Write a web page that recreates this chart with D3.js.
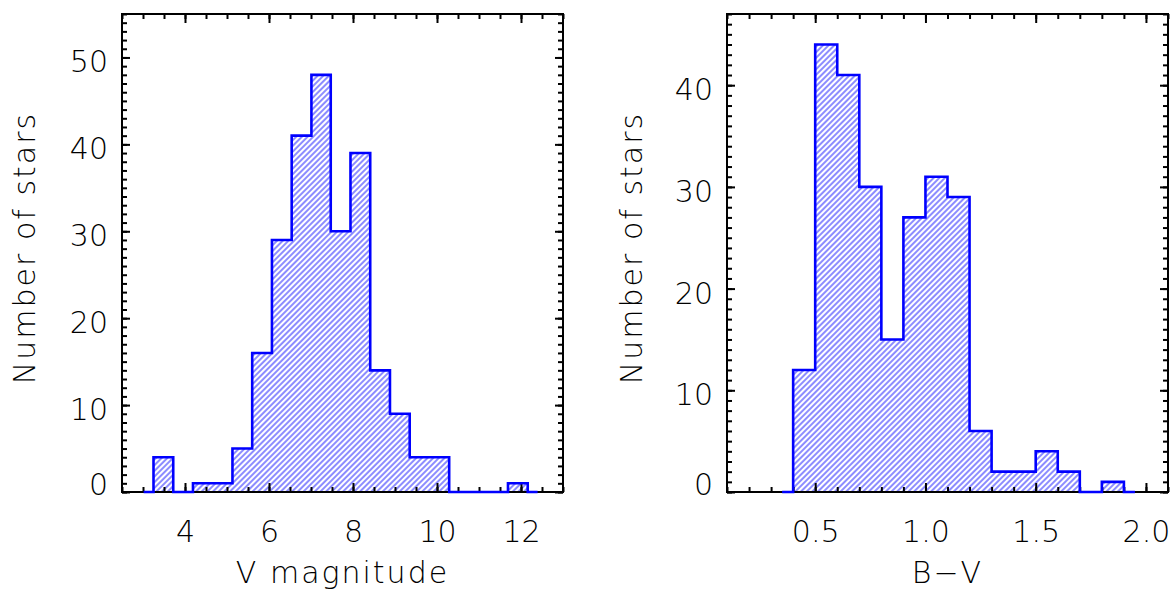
<!DOCTYPE html>
<html>
<head>
<meta charset="utf-8">
<script src="https://cdn.jsdelivr.net/npm/d3@7"></script>
<style>
  body { margin: 0; background: #fff; }
  text { font-family: "DejaVu Sans", "Liberation Sans", sans-serif; font-weight: 200; fill: #000; }
  .tick text { font-size: 30px; }
  .aTitle { font-size: 30px; letter-spacing: 2px; }
</style>
</head>
<body>
<div id="chart"></div>
<script>
//=========Data=========//
// V magnitude histogram: bin edges and counts
var vEdges = [3.25, 3.72, 4.19, 4.66, 5.13, 5.60, 6.07, 6.54, 7.01, 7.47, 7.94,
  8.41, 8.88, 9.35, 9.82, 10.29, 10.75, 11.22, 11.69, 12.16];
var vCounts = [4, 0, 1, 1, 5, 16, 29, 41, 48, 30, 39, 14, 9, 4, 4, 0, 0, 0, 1];

// B-V histogram: bin edges and counts
var bvEdges = [0.4, 0.5, 0.6, 0.7, 0.8, 0.9, 1.0, 1.1, 1.2, 1.3, 1.4, 1.5,
  1.6, 1.7, 1.8, 1.9];
var bvCounts = [12, 44, 41, 30, 15, 27, 31, 29, 6, 2, 2, 4, 2, 0, 1];

// tick labels
var vXTicks = [4, 6, 8, 10, 12];
var vYTicks = [0, 10, 20, 30, 40, 50];
var bvXTicks = [0.5, 1.0, 1.5, 2.0];
var bvYTicks = [0, 10, 20, 30, 40];

//=========SVG area=========//
var svgWidth = 1175;
var svgHeight = 594;

var svg = d3
  .select("#chart")
  .append("svg")
  .attr("width", svgWidth)
  .attr("height", svgHeight);

// hatch pattern, "/" lines
svg
  .append("defs")
  .append("pattern")
  .attr("id", "hatch")
  .attr("patternUnits", "userSpaceOnUse")
  .attr("width", 4)
  .attr("height", 4)
  .attr("patternTransform", "rotate(-45)")
  .append("line")
  .attr("x1", -1)
  .attr("x2", 5)
  .attr("y1", 2)
  .attr("y2", 2)
  .attr("stroke", "#0000ff")
  .attr("stroke-width", 0.9);

//=========Draw one histogram panel=========//
function drawPanel(opts) {
  var width = opts.right - opts.left;
  var height = opts.bottom - opts.top;

  var g = svg
    .append("g")
    .attr("transform", `translate(${opts.left}, ${opts.top})`);

  var x = d3.scaleLinear().domain(opts.xDomain).range([0, width]);
  var y = d3.scaleLinear().domain(opts.yDomain).range([height, 0]);

  // step points: baseline stub, one point per bin, closing edge, stub
  var edges = opts.edges;
  var counts = opts.counts;
  var half = (edges[1] - edges[0]) / 2;
  var pts = [[edges[0] - half, 0]];
  counts.forEach(function (c, i) {
    pts.push([edges[i], c]);
  });
  pts.push([edges[edges.length - 1], 0]);
  pts.push([edges[edges.length - 1] + half, 0]);

  var area = d3
    .area()
    .curve(d3.curveStepAfter)
    .x((d) => x(d[0]))
    .y0(y(0))
    .y1((d) => y(d[1]));

  var line = d3
    .line()
    .curve(d3.curveStepAfter)
    .x((d) => x(d[0]))
    .y((d) => y(d[1]));

  // hatched fill
  g.append("path").datum(pts).attr("d", area).attr("fill", "url(#hatch)");

  // major + minor ticks on all four sides
  function styleAxis(sel) {
    sel.select(".domain").remove();
    sel.selectAll(".tick line").attr("stroke", "#000").attr("stroke-width", 2);
  }

  g.append("g")
    .attr("transform", `translate(0, ${height})`)
    .call(d3.axisBottom(x).tickValues(opts.xMinor).tickSize(-5).tickFormat(""))
    .call(styleAxis);
  g.append("g")
    .call(d3.axisTop(x).tickValues(opts.xMinor).tickSize(-5).tickFormat(""))
    .call(styleAxis);
  g.append("g")
    .call(d3.axisLeft(y).tickValues(opts.yMinor).tickSize(-5).tickFormat(""))
    .call(styleAxis);
  g.append("g")
    .attr("transform", `translate(${width}, 0)`)
    .call(d3.axisRight(y).tickValues(opts.yMinor).tickSize(-5).tickFormat(""))
    .call(styleAxis);

  var bottomAxis = g
    .append("g")
    .attr("transform", `translate(0, ${height})`)
    .call(
      d3.axisBottom(x).tickValues(opts.xTicks).tickSize(-9).tickPadding(29)
        .tickFormat(opts.xFormat)
    )
    .call(styleAxis);
  bottomAxis.selectAll(".tick text").attr("font-size", null);

  g.append("g")
    .call(d3.axisTop(x).tickValues(opts.xTicks).tickSize(-9).tickFormat(""))
    .call(styleAxis);

  var leftAxis = g
    .append("g")
    .call(d3.axisLeft(y).tickValues(opts.yTicks).tickSize(-8).tickPadding(14))
    .call(styleAxis);
  leftAxis
    .selectAll(".tick text")
    .attr("font-size", null)
    .attr("dy", (d) => (d === 0 ? "0.07em" : "0.48em"));

  g.append("g")
    .attr("transform", `translate(${width}, 0)`)
    .call(d3.axisRight(y).tickValues(opts.yTicks).tickSize(-8).tickFormat(""))
    .call(styleAxis);

  svg.selectAll("g").attr("font-size", null).attr("font-family", null);

  // frame
  g.append("rect")
    .attr("width", width)
    .attr("height", height)
    .attr("fill", "none")
    .attr("stroke", "#000")
    .attr("stroke-width", 2);

  // histogram outline
  g.append("path")
    .datum(pts)
    .attr("d", line)
    .attr("fill", "none")
    .attr("stroke", "#0000ff")
    .attr("stroke-width", 2.6)
    .attr("stroke-linejoin", "miter");

  // axis titles
  g.append("text")
    .attr("class", "aTitle")
    .attr("x", width / 2)
    .attr("y", 583 - opts.top)
    .attr("text-anchor", "middle")
    .text(opts.xTitle);

  g.append("text")
    .attr("class", "aTitle")
    .attr("transform", `translate(${opts.yTitleX - opts.left}, ${248 - opts.top}) rotate(-90)`)
    .attr("text-anchor", "middle")
    .text("Number of stars");
}

drawPanel({
  left: 122, right: 563, top: 14, bottom: 492,
  xDomain: [2.5, 13], yDomain: [0, 55],
  edges: vEdges, counts: vCounts,
  xTicks: vXTicks, yTicks: vYTicks,
  xMinor: d3.range(2.5, 13.01, 0.5), yMinor: d3.range(0, 56, 1),
  xFormat: d3.format("d"),
  xTitle: "V magnitude",
  yTitleX: 35,
});

drawPanel({
  left: 727, right: 1168, top: 14, bottom: 492,
  xDomain: [0.1, 2.1], yDomain: [0, 47],
  edges: bvEdges, counts: bvCounts,
  xTicks: bvXTicks, yTicks: bvYTicks,
  xMinor: d3.range(1, 22, 1).map((d) => d / 10), yMinor: d3.range(0, 48, 1),
  xFormat: d3.format(".1f"),
  xTitle: "B\u2212V",
  yTitleX: 642,
});
</script>
</body>
</html>
